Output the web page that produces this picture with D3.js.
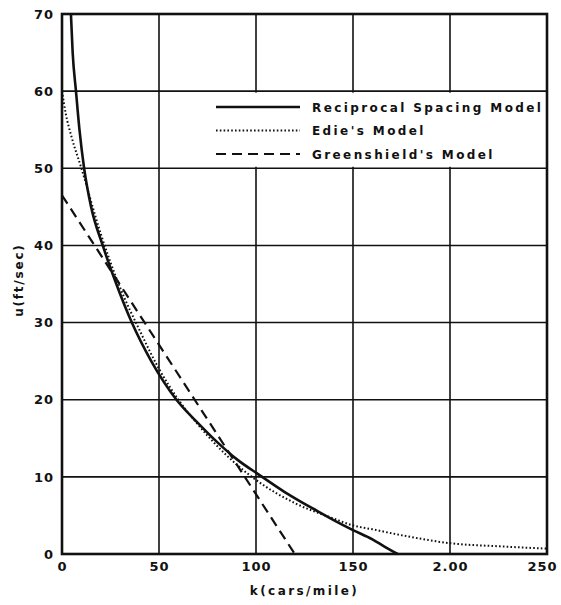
<!DOCTYPE html>
<html>
<head>
<meta charset="utf-8">
<script src="https://cdn.jsdelivr.net/npm/d3@7"></script>
<style>
body{margin:0;background:#fff;}
text{font-family:"DejaVu Sans",sans-serif;font-weight:bold;fill:#111;}
</style>
</head>
<body>
<div id="chart"></div>
<script>
// values
var xTicks=[0,50,100,150,200,250];
var xTickLabels=['0','50','100','150','2.00','250'];
var yTicks=[0,10,20,30,40,50,60,70];
var recipK=[4.6,5.5,7.2,9,11.4,15,21,28,36,46,59,70,80,90,102,115,123,130,140,150,160,166,173];
var recipU=[70,65,60,55,50,45,40,35,30,25,20,17,14.5,12.3,10.2,8,6.8,5.8,4.4,3.1,1.9,1.0,0];
var edieK=[0,2,5,10,20,30,40,50,60,70,80,90,100,120,140,150,160,180,200,225,250];
var edieU=[60,57,54,50,41.5,34.5,29,24,20,16.8,14,11.6,9.6,6.6,4.6,3.7,3.2,2.2,1.4,1.0,0.7];
var greenK=[0,120];
var greenU=[46.5,0];
var seriesNames=['Reciprocal Spacing Model',"Edie's Model","Greenshield's Model"];

var W=561,H=605;
var svg=d3.select('#chart').append('svg').attr('width',W).attr('height',H);
var x=d3.scaleLinear().domain([0,250]).range([62,547]);
var y=d3.scaleLinear().domain([0,70]).range([554,14]);

// grid
svg.selectAll('line.vg').data(xTicks).enter().append('line').attr('class','vg')
  .attr('x1',function(d){return x(d);}).attr('x2',function(d){return x(d);})
  .attr('y1',y(0)).attr('y2',y(70)).attr('stroke','#111').attr('stroke-width',1.6);
svg.selectAll('line.hg').data(yTicks).enter().append('line').attr('class','hg')
  .attr('y1',function(d){return y(d);}).attr('y2',function(d){return y(d);})
  .attr('x1',x(0)).attr('x2',x(250)).attr('stroke','#111').attr('stroke-width',1.6);

// legend box hides the grid under it
svg.append('rect').attr('x',206).attr('y',y(60)+1.5).attr('width',x(250)-206).attr('height',y(50)-y(60)-3).attr('fill','#fff');

svg.append('rect').attr('x',x(0)).attr('y',y(70)).attr('width',x(250)-x(0)).attr('height',y(0)-y(70))
  .attr('fill','none').attr('stroke','#111').attr('stroke-width',2.6);

// tick labels via axes
var xAxis=svg.append('g').attr('transform','translate(0,'+y(0)+')')
  .call(d3.axisBottom(x).tickValues(xTicks).tickSize(0).tickPadding(8).tickFormat(function(d,i){return xTickLabels[i];}));
var yAxis=svg.append('g').attr('transform','translate('+x(0)+',0)')
  .call(d3.axisLeft(y).tickValues(yTicks).tickSize(0).tickPadding(8).tickFormat(d3.format('d')));
[xAxis,yAxis].forEach(function(g){
  g.select('.domain').remove();
  g.selectAll('text').attr('font-size',13).attr('font-family','"DejaVu Sans",sans-serif').attr('font-weight','bold').attr('letter-spacing',1).attr('fill','#111');
});
xAxis.selectAll('.tick text').filter(function(d){return d===250;}).attr('dx',-5);

svg.append('text').attr('x',(x(0)+x(250))/2).attr('y',595).attr('text-anchor','middle')
  .attr('font-size',12).attr('letter-spacing',2.4).text('k(cars/mile)');
svg.append('text').attr('transform','translate(23,'+y(35.5)+') rotate(-90)').attr('text-anchor','middle')
  .attr('font-size',12).attr('letter-spacing',1.8).text('u(ft/sec)');

// curves
var line=d3.line().x(function(d){return x(d[0]);}).y(function(d){return y(d[1]);}).curve(d3.curveMonotoneX);
var styles=[{w:2.6,dash:null},{w:2,dash:'1.6,2.2'},{w:2.2,dash:'10,6'}];
var data=[d3.zip(recipK,recipU),d3.zip(edieK,edieU),d3.zip(greenK,greenU)];
data.forEach(function(pts,i){
  svg.append('path').datum(pts).attr('d',line).attr('fill','none').attr('stroke','#111')
    .attr('stroke-width',styles[i].w).attr('stroke-dasharray',styles[i].dash);
});

// legend
var leg=svg.append('g');
seriesNames.forEach(function(n,i){
  var yy=107+i*23.5;
  leg.append('line').attr('x1',216).attr('x2',300).attr('y1',yy).attr('y2',yy).attr('stroke','#111')
    .attr('stroke-width',styles[i].w).attr('stroke-dasharray',styles[i].dash);
  leg.append('text').attr('x',312).attr('y',yy+4.5).attr('font-size',12).attr('letter-spacing',2.4).text(n);
});
</script>
</body>
</html>
